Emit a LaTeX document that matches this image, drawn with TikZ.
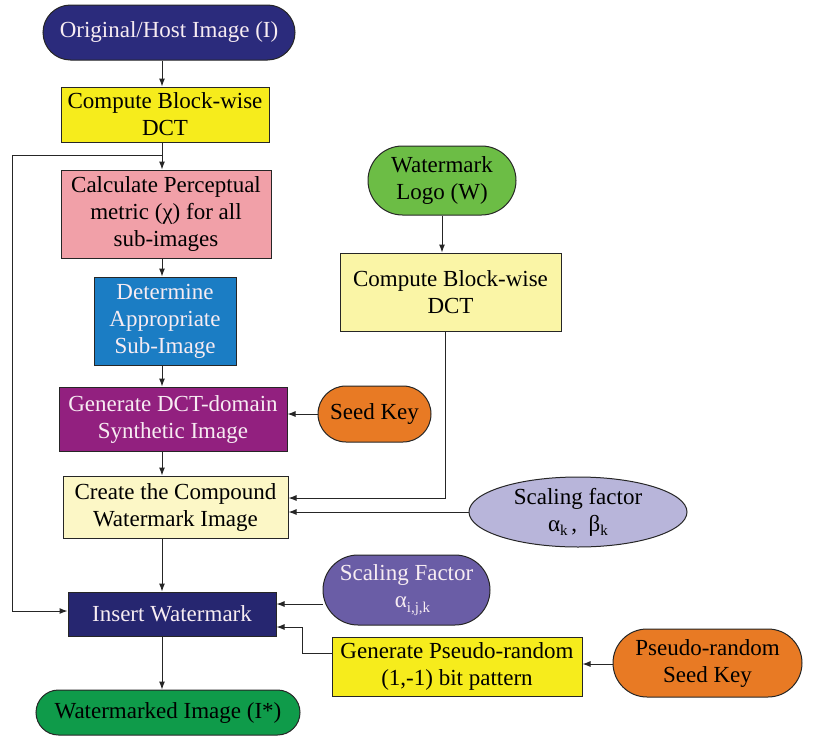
\documentclass[tikz,border=0pt]{standalone}
\usepackage{fontspec}
\setmainfont{Liberation Serif}
\usetikzlibrary{shapes.misc,shapes.geometric,arrows.meta}
\definecolor{cNavy}{HTML}{2B2B7C}
\definecolor{cNavyB}{HTML}{262670}
\definecolor{cYellow}{HTML}{F6EC1C}
\definecolor{cPink}{HTML}{F1A0A8}
\definecolor{cBlue}{HTML}{1B7DC4}
\definecolor{cPurple}{HTML}{92207F}
\definecolor{cCream}{HTML}{FCF7C6}
\definecolor{cCreamB}{HTML}{FAF5A6}
\definecolor{cLime}{HTML}{6CBD45}
\definecolor{cOrange}{HTML}{E87A24}
\definecolor{cLav}{HTML}{B8B5DA}
\definecolor{cViolet}{HTML}{6A5DA6}
\definecolor{cGreen}{HTML}{0F9B4A}
\definecolor{cLight}{HTML}{F7ECF2}
\newcommand\sbs[1]{\raisebox{-0.45ex}{\fontsize{15}{15}\selectfont #1}}
\begin{document}
\begin{tikzpicture}[x=1pt,y=-1pt,
  box/.style={draw=black!85, line width=1pt, align=center, inner sep=0pt,
    font=\fontsize{23}{27}\selectfont},
  stad/.style={box, rounded rectangle},
  arr/.style={-{Latex[length=8pt,width=6pt]}, line width=1pt, draw=black!85},
  ln/.style={line width=1pt, draw=black!85}]
\useasboundingbox (0,0) rectangle (835,736);

% left column
\node[stad, fill=cNavy, text=cLight, minimum width=252pt, minimum height=55pt] (orig) at (169,32.5) {Original/Host Image (I)};
\node[box, fill=cYellow, minimum width=208pt, minimum height=55pt] (dcta) at (165,114.5) {Compute Block-wise\\DCT};
\node[box, fill=cPink, minimum width=210pt, minimum height=88pt] (calc) at (166,214) {Calculate Perceptual\\metric (χ) for all\\sub-images};
\node[box, fill=cBlue, text=cLight, minimum width=142pt, minimum height=88pt] (dete) at (165,321) {Determine\\Appropriate\\Sub-Image};
\node[box, fill=cPurple, text=cLight, minimum width=228pt, minimum height=64pt] (gene) at (173,419) {Generate DCT-domain\\Synthetic Image};
\node[box, fill=cCream, minimum width=225pt, minimum height=62pt] (crea) at (175.5,507) {Create the Compound\\Watermark Image};
\node[box, fill=cNavyB, text=cLight, minimum width=208pt, minimum height=44pt] (inse) at (172,614) {Insert Watermark};
\node[stad, fill=cGreen, minimum width=264pt, minimum height=45pt] (wimg) at (168,712.5) {Watermarked Image (I*)};

% right side
\node[stad, fill=cLime, minimum width=148pt, minimum height=69pt] (logo) at (442,180.5) {Watermark\\Logo (W)};
\node[box, fill=cCreamB, minimum width=221pt, minimum height=78pt] (dctb) at (450.5,292) {Compute Block-wise\\DCT};
\node[stad, fill=cOrange, minimum width=113pt, minimum height=56pt] (seed) at (374.5,414) {Seed Key};
\node[ellipse, draw=black!85, line width=1pt, fill=cLav, align=center, inner sep=0pt,
  font=\fontsize{23}{27}\selectfont, minimum width=218pt, minimum height=70pt] (scal) at (578,512) {Scaling factor\\α\sbs{k}\,,\ \ β\sbs{k}};
\node[stad, fill=cViolet, text=cLight, minimum width=167pt, minimum height=70pt] (scaf) at (406.5,590) {Scaling Factor\\\hspace*{12pt}α\sbs{i,j,k}};
\node[box, fill=cYellow, minimum width=250pt, minimum height=59pt] (pgen) at (457,666.5) {Generate Pseudo-random\\(1,-1) bit pattern};
\node[stad, fill=cOrange, minimum width=189pt, minimum height=68pt] (pkey) at (707.5,663) {Pseudo-random\\Seed Key};

% connectors
\coordinate (col) at (162,0);
\coordinate (split) at (162,155);
\coordinate (lft) at (12,155);
\coordinate (dn) at (445,498);
\coordinate (jog) at (302,627);

\draw[arr] (orig.south -| col) -- (dcta.north -| col);
\draw[ln] (dcta.south -| col) -- (split);
\draw[arr] (split) -- (calc.north -| col);
\draw[arr] (split) -- (lft) |- ([yshift=3pt]inse.west);
\draw[arr] (calc.south -| col) -- (dete.north -| col);
\draw[arr] (dete.south -| col) -- (gene.north -| col);
\draw[arr] (gene.south -| col) -- (crea.north -| col);
\draw[arr] (crea.south -| col) -- (inse.north -| col);
\draw[arr] (inse.south -| col) -- (wimg.north -| col);

\draw[arr] (logo.south) -- (dctb.north -| logo.south);
\draw[arr] (seed.west) -- (gene.east |- seed.west);
\draw[arr] (dctb.south -| dn) -- (dn) -- (crea.east |- dn);
\draw[arr] (scal.west) -- (crea.east |- scal.west);
\draw[arr] (scaf.west |- 0,604) -- (inse.east |- 0,604);
\draw[arr] (pgen.west |- 0,653) -| (jog) -- (inse.east |- jog);
\draw[arr] (pkey.west |- 0,664) -- (pgen.east |- 0,664);
\end{tikzpicture}
\end{document}
